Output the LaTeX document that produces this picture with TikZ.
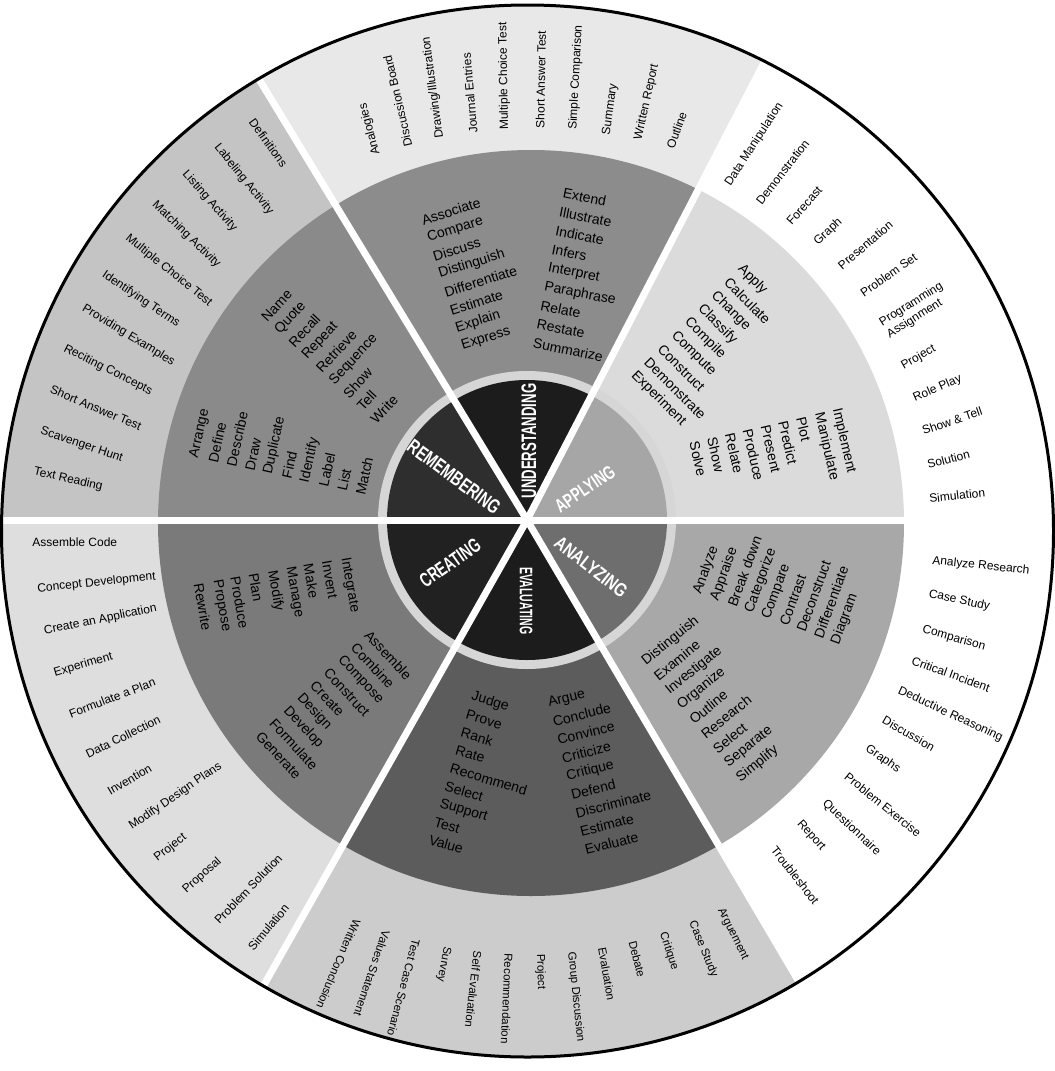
\documentclass[tikz,border=0pt]{standalone}
\usepackage{fontspec}
\usepackage{graphicx}
\setmainfont{Liberation Sans}
\newcommand\slsh{/}
\definecolor{inRem}{gray}{0.18}
\definecolor{inUnd}{gray}{0.11}
\definecolor{inApp}{gray}{0.65}
\definecolor{inAna}{gray}{0.43}
\definecolor{inEva}{gray}{0.11}
\definecolor{inCre}{gray}{0.13}
\definecolor{ringc}{gray}{0.84}
\definecolor{midRem}{gray}{0.54}
\definecolor{midUnd}{gray}{0.55}
\definecolor{midApp}{gray}{0.86}
\definecolor{midAna}{gray}{0.66}
\definecolor{midEva}{gray}{0.36}
\definecolor{midCre}{gray}{0.48}
\definecolor{outRem}{gray}{0.77}
\definecolor{outUnd}{gray}{0.91}
\definecolor{outApp}{gray}{1}
\definecolor{outAna}{gray}{1}
\definecolor{outEva}{gray}{0.80}
\definecolor{outCre}{gray}{0.87}
\newcommand\wheelsector[3]{\fill[#1] (527,520) -- ({527+1500*cos(#2)},{520-1500*sin(#2)}) -- ({527+1500*cos((#2+#3)/2)},{520-1500*sin((#2+#3)/2)}) -- ({527+1500*cos(#3)},{520-1500*sin(#3)}) -- cycle;}
\newcommand\wlist[6]{\foreach \w [count=\i from 0] in {#6} {\node[midw, rotate=#4] (#1-\i) at ({#2+\i*#5*sin(#4)},{#3+\i*#5*cos(#4)}) {\w};}}
\newcommand\olist[2]{\foreach \ox/\oy/\orot/\otxt [count=\i] in {#2} {\node[outw, rotate=\orot] (#1-\i) at (\ox,\oy) {\otxt};}}
\begin{document}
\begin{tikzpicture}[x=0.75pt,y=-0.75pt,
  midw/.style={font=\fontsize{10.5}{12}\selectfont, inner sep=0pt, anchor=west, text=black},
  outw/.style={font=\fontsize{9}{10.5}\selectfont, inner sep=0pt, anchor=west, align=left, text=black},
  hub/.style={text=white, inner sep=0pt, font=\bfseries},
  divider/.style={white, line width=5.25pt}]
\useasboundingbox (0,0) rectangle (1055,1071);
\fill[white] (0,0) rectangle (1055,1071);
% outer ring
\begin{scope}
\clip (527.5,531) circle[radius=527];
\wheelsector{outApp}{0}{62.6}
\wheelsector{outUnd}{62.6}{121.3}
\wheelsector{outRem}{121.3}{180}
\wheelsector{outCre}{180}{240.5}
\wheelsector{outEva}{240.5}{300.5}
\wheelsector{outAna}{300.5}{360}
\end{scope}
% middle ring
\begin{scope}
\clip (531,523) circle[radius=373];
\wheelsector{midApp}{0}{62.6}
\wheelsector{midUnd}{62.6}{121.3}
\wheelsector{midRem}{121.3}{180}
\wheelsector{midCre}{180}{240.5}
\wheelsector{midEva}{240.5}{300.5}
\wheelsector{midAna}{300.5}{360}
\end{scope}
\fill[ringc] (527,520) circle[radius=149];
% hub
\begin{scope}
\clip (527,520) circle[radius=140];
\wheelsector{inApp}{0}{62.6}
\wheelsector{inUnd}{62.6}{121.3}
\wheelsector{inRem}{121.3}{180}
\wheelsector{inCre}{180}{240.5}
\wheelsector{inEva}{240.5}{300.5}
\wheelsector{inAna}{300.5}{360}
\end{scope}
% dividers
\begin{scope}
\clip (527.5,531) circle[radius=527];
\foreach \a in {0,62.6,121.3,180,240.5,300.5}
  \draw[divider] (527,520) -- ({527+700*cos(\a)},{520-700*sin(\a)});
\end{scope}
\draw[black, line width=2.25pt] (527.5,531) circle[radius=526];
% hub labels
\node[hub, rotate=-36.5] (hub-rem) at (454,477) {\resizebox{82.5pt}{10.5pt}{REMEMBERING}};
\node[hub, rotate=90] (hub-und) at (529,441) {\resizebox{86pt}{11pt}{UNDERSTANDING}};
\node[hub, rotate=34] (hub-app) at (585,489) {\resizebox{51pt}{10pt}{APPLYING}};
\node[hub, rotate=-38] (hub-ana) at (591,567) {\resizebox{65pt}{10pt}{ANALYZING}};
\node[hub, rotate=-90] (hub-eva) at (526,601) {\resizebox{50pt}{9.5pt}{EVALUATING}};
\node[hub, rotate=35] (hub-cre) at (450,563) {\resizebox{52pt}{10.5pt}{CREATING}};
% middle ring verbs
\wlist{rema}{263.7}{319.5}{47}{18.66}{Name,Quote,Recall,Repeat,Retrieve,Sequence,Show,Tell,Write}
\wlist{remb}{194.4}{458.1}{77.5}{18.86}{Arrange,Define,Describe,Draw,Duplicate,Find,Identify,Label,List,Match}
\wlist{unda}{421.8}{220.5}{17.5}{18.9}{Associate,Compare,Discuss,Distinguish,Differentiate,Estimate,Explain,Express}
\wlist{undb}{563}{193}{-11.3}{19.1}{Extend,Illustrate,Indicate,Infers,Interpret,Paraphrase,Relate,Restate,Summarize}
\wlist{appa}{740}{266.7}{-45}{18.86}{Apply,Calculate,Change,Classify,Compile,Compute,Construct,Demonstrate,Experiment}
\wlist{appb}{836.4}{408.7}{-77}{18.26}{Implement,Manipulate,Plot,Predict,Present,Produce,Relate,Show,Solve}
\wlist{anaa}{697.4}{593.9}{70}{18.36}{Analyze,Appraise,Break down,Categorize,Compare,Contrast,Deconstruct,Differentiate,Diagram}
\wlist{anab}{643.7}{662.9}{39}{18.76}{Distinguish,Examine,Investigate,Organize,Outline,Research,Select,Separate,Simplify}
\wlist{evaa}{471.6}{696.3}{-16.5}{18.66}{Judge,Prove,Rank,Rate,Recommend,Select,Support,Test,Value}
\wlist{evab}{548.3}{703.4}{14}{18.86}{Argue,Conclude,Convince,Criticize,Critique,Defend,Discriminate,Estimate,Evaluate}
\wlist{crea}{344.8}{557.4}{-80}{18.56}{Integrate,Invent,Make,Manage,Modify,Plan,Produce,Propose,Rewrite}
\wlist{creb}{367.1}{632.4}{-47}{18.56}{Assemble,Combine,Compose,Construct,Create,Design,Develop,Formulate,Generate}
% outer ring activities
\olist{remo}{251.8/120/-54/Definitions,216.3/145.3/-51/Labeling Activity,184.3/172.4/-48.4/Listing Activity,153.9/202.8/-44.3/Matching Activity,126.8/236.6/-39/Multiple Choice Test,103.1/273.8/-34/Identifying Terms,82.9/307.6/-31.4/Providing Examples,64.2/348.2/-26.6/Reciting Concepts,50.7/388.7/-22.7/Short Answer Test,40.6/431/-18.8/Scavenger Hunt,33.8/471.6/-12.7/Text Reading}
\olist{undo}{376.7/155/105/Analogies,408.3/146.7/103/Discussion Board,440/138.3/97.7/Drawing\slsh Illustration,473.3/133.3/95/Journal Entries,505/130/91/Multiple Choice Test,540/128.3/89/Short Answer Test,573.3/130/87/Simple Comparison,606.7/135/82/Summary,638.3/140/77.5/Written Report,670/148.3/70/Outline}
\olist{appo}{727.8/185.3/57/Data Manipulation,758.3/202.8/52/Demonstration,788.7/223.1/48.5/Forecast,815.8/243.4/43/Graph,839.5/267/40.5/Presentation,861.4/294.1/35/Problem Set,884.2/329.6/32/Programming\\Assignment,902/366.8/29.5/Project,913.7/398.9/23.5/Role Play,922.3/431/19/Show \& Tell,927.3/464.8/14.5/Solution,929/498.7/6.5/Simulation}
\olist{anao}{932.2/561/-6/Analyze Research,928.7/594.1/-12/Case Study,922.5/629.6/-15.5/Comparison,912.1/660/-20/Critical Incident,898.5/690.4/-25/Deductive Reasoning,883.3/719.1/-30/Discussion,866.5/747.8/-34.5/Graphs,846.2/774.9/-39/Problem Exercise,824.2/802/-43.5/Questionnaire,798.8/822.3/-48/Report,773.5/847.6/-52/Troubleshoot}
\olist{creo}{32.2/541.9/0/Assemble Code,37.2/589.1/6/Concept Development,43.9/631.4/11.5/Create an Application,54.1/673.7/16.5/Experiment,69.3/714.3/21/Formulate a Plan,86.2/754.8/26/Data Collection,108.2/792/30.5/Invention,130.1/827.5/34.5/Modify Design Plans,155.5/859.6/38/Project,184.3/891.8/42/Proposal,216.3/922.2/46/Problem Solution,250.2/949.2/50/Simulation}
\foreach \otxt [count=\i from 0] in {Written Conclusion,Values Statement,Test Case Scenario,Survey,Self Evaluation,Recommendation,Project,Group Discussion,Evaluation,Debate,Critique,Case Study,Arguement}
  {\pgfmathsetmacro\th{-113+4.12*\i}
   \node[outw, font=\fontsize{8.6}{10}\selectfont, rotate=\th] (evao-\i) at ({527+434*cos(\th)},{520-434*sin(\th)}) {\otxt};}
\end{tikzpicture}
\end{document}
